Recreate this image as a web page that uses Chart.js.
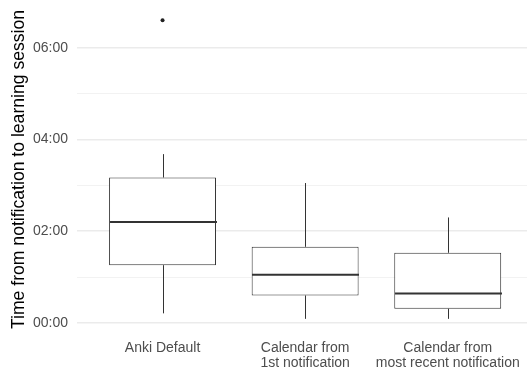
<!DOCTYPE html>
<html>
<head>
<meta charset="utf-8">
<script src="https://cdn.jsdelivr.net/npm/chart.js@4/dist/chart.umd.min.js"></script>
<style>
  html, body { margin: 0; padding: 0; background: #fff; }
  #wrap { width: 527px; height: 373px; }
</style>
</head>
<body>
<div id="wrap"><canvas id="box_chart"></canvas></div>
<script>
// categories and box statistics, in hours
const categories = [
  ["Anki Default"],
  ["Calendar from", "1st notification"],
  ["Calendar from", "most recent notification"],
];
const whiskerLow = [0.21, 0.09, 0.09];
const q1 = [1.26, 0.6, 0.31];
const median = [2.2, 1.05, 0.64];
const q3 = [3.17, 1.66, 1.53];
const whiskerHigh = [3.68, 3.05, 2.3];
const outliers = [{ group: 1, value: 6.6 }];
const yTicks = [0, 1, 2, 3, 4, 5, 6];

const fmtHour = (v) => (v < 10 ? "0" : "") + v + ":00";

const whiskerPlugin = {
  id: "whiskers",
  afterDatasetsDraw(chart) {
    const ctx = chart.ctx;
    const xs = chart.scales.x;
    const ys = chart.scales.y;
    const bars = chart.getDatasetMeta(0).data;
    ctx.save();
    ctx.strokeStyle = "#333333";
    categories.forEach((c, i) => {
      const x = Math.round(xs.getPixelForValue(i + 1)) + 0.5;
      ctx.lineWidth = 1;
      ctx.beginPath();
      ctx.moveTo(x, ys.getPixelForValue(whiskerHigh[i]));
      ctx.lineTo(x, ys.getPixelForValue(q3[i]));
      ctx.moveTo(x, ys.getPixelForValue(q1[i]));
      ctx.lineTo(x, ys.getPixelForValue(whiskerLow[i]));
      ctx.stroke();
      // median line, fattened like ggplot
      const w = bars[i].width;
      ctx.lineWidth = 2;
      ctx.beginPath();
      const my = ys.getPixelForValue(median[i]);
      ctx.moveTo(x - w / 2, my);
      ctx.lineTo(x + w / 2, my);
      ctx.stroke();
    });
    ctx.restore();
  },
};

new Chart(document.getElementById("box_chart"), {
  type: "bar",
  data: {
    datasets: [
      {
        data: categories.map((c, i) => ({ x: i + 1, y: [q1[i], q3[i]] })),
        backgroundColor: "#ffffff",
        borderColor: "#333333",
        borderWidth: 1,
        borderSkipped: false,
        barPercentage: 0.75,
        categoryPercentage: 1,
      },
      {
        type: "scatter",
        data: outliers.map((o) => ({ x: o.group, y: o.value })),
        backgroundColor: "#222222",
        borderWidth: 0,
        pointRadius: 2,
      },
    ],
  },
  options: {
    responsive: true,
    maintainAspectRatio: false,
    animation: false,
    layout: { autoPadding: false, padding: { top: 5, right: 0, bottom: 0, left: 0 } },
    plugins: {
      legend: { display: false },
      tooltip: { enabled: false },
    },
    scales: {
      x: {
        type: "linear",
        offset: false,
        min: 0.4,
        max: 3.556,
        grid: { display: false, drawTicks: false },
        border: { display: false },
        afterBuildTicks: (scale) => {
          scale.ticks = categories.map((c, i) => ({ value: i + 1 }));
        },
        afterFit: (scale) => {
          scale.height = 39;
          scale.paddingLeft = 0;
          scale.paddingRight = 0;
        },
        ticks: {
          autoSkip: false,
          maxRotation: 0,
          minRotation: 0,
          padding: 7,
          color: "#4d4d4d",
          font: { family: "'Liberation Sans', Arial", size: 14, lineHeight: 1.05 },
          callback: (v) => categories[v - 1],
        },
      },
      y: {
        min: -0.24,
        max: 6.93,
        afterBuildTicks: (scale) => {
          scale.ticks = yTicks.map((v) => ({ value: v }));
        },
        afterFit: (scale) => {
          scale.width = 77;
          scale.paddingTop = 0;
          scale.paddingBottom = 0;
        },
        grid: {
          drawTicks: false,
          color: (c) => (c.tick && c.tick.value % 2 === 0 ? "#ebebeb" : "#f2f2f2"),
          lineWidth: (c) => (c.tick && c.tick.value % 2 === 0 ? 1.5 : 1),
        },
        border: { display: false },
        ticks: {
          padding: 9,
          color: "#4d4d4d",
          font: { family: "'Liberation Sans', Arial", size: 14 },
          callback: (v) => (v % 2 === 0 ? fmtHour(v) : ""),
        },
        title: {
          display: true,
          text: "Time from notification to learning session",
          color: "#000000",
          font: { family: "'Liberation Sans', Arial", size: 17.6 },
          padding: { top: 9, bottom: 0 },
        },
      },
    },
  },
  plugins: [whiskerPlugin],
});
</script>
</body>
</html>
